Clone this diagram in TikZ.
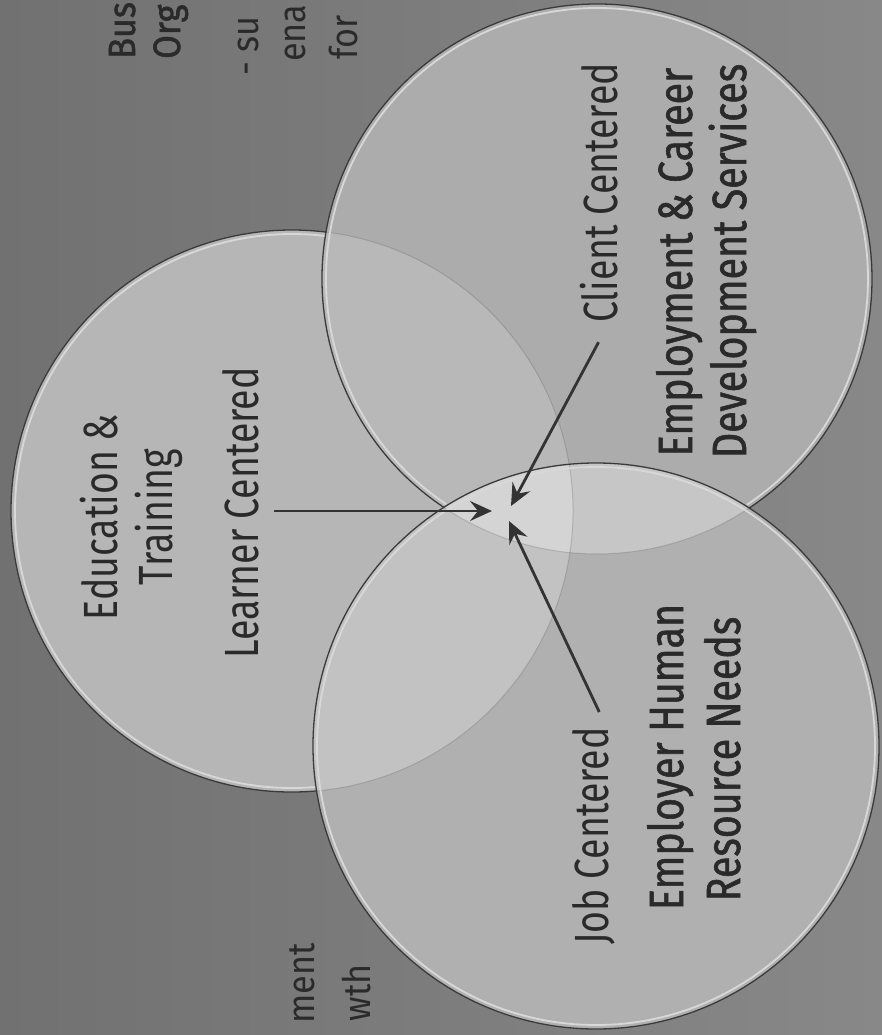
\documentclass[tikz,border=0pt]{standalone}
\usepackage{fontspec}
\setmainfont{Fira Sans}
\newfontfamily\condfont[FakeStretch=0.78]{Fira Sans}
\newfontfamily\semifont[FakeStretch=0.82,FakeBold=1.2]{Fira Sans}
\newfontfamily\fragfont[FakeStretch=0.9]{Fira Sans}
\newfontfamily\fragbold[FakeStretch=0.9,FakeBold=1.5]{Fira Sans}
\usetikzlibrary{arrows.meta}
\definecolor{bgL}{HTML}{717171}
\definecolor{bgR}{HTML}{888888}
\definecolor{eduF}{HTML}{B6B6B6}
\definecolor{cliF}{HTML}{ACACAC}
\definecolor{jobF}{HTML}{B0B0B0}
\definecolor{ecF}{HTML}{B8B8B8}
\definecolor{ejF}{HTML}{C2C2C2}
\definecolor{cjF}{HTML}{C6C6C6}
\definecolor{ecjF}{HTML}{D4D4D4}
\definecolor{rimD}{HTML}{3A3A3A}
\definecolor{rimL}{HTML}{D8D8D8}
\definecolor{inkc}{HTML}{2A2A2A}
\definecolor{arrowc}{HTML}{333333}
\tikzset{
  rimdark/.style={draw=rimD, line width=1.3pt},
  rimlight/.style={draw=rimL, line width=1.8pt},
  rimfaint/.style={draw=rimD, line width=1pt, draw opacity=0.2},
  lbl/.style={text=inkc, rotate=90, anchor=base, inner sep=2pt, font=\condfont\fontsize{48}{52}\selectfont},
  lblsemi/.style={lbl, font=\semifont\fontsize{48}{52}\selectfont},
  frag/.style={text=inkc, rotate=90, inner sep=0pt, font=\fragfont\fontsize{38}{42}\selectfont},
  fragb/.style={frag, font=\fragbold\fontsize{38}{42}\selectfont},
  ptr/.style={draw=arrowc, line width=2.8pt, -{Stealth[length=22pt,width=20pt,inset=8pt]}}
}
\begin{document}
\begin{tikzpicture}[x=1pt,y=-1pt]
\useasboundingbox (0,0) rectangle (882,1035);
\clip (0,0) rectangle (882,1035);
\shade[left color=bgL, right color=bgR] (0,0) rectangle (882,1035);

\coordinate (cE) at (292,511);
\coordinate (cC) at (597,279);
\coordinate (cJ) at (596,746);

% fills with overlap shades
\fill[eduF] (cE) circle[radius=281];
\fill[cliF] (cC) circle[radius=275];
\begin{scope}
  \clip (cE) circle[radius=281];
  \fill[ecF] (cC) circle[radius=275];
\end{scope}
\fill[jobF] (cJ) circle[radius=283];
\begin{scope}
  \clip (cJ) circle[radius=283];
  \fill[ejF] (cE) circle[radius=281];
  \fill[cjF] (cC) circle[radius=275];
  \clip (cE) circle[radius=281];
  \fill[ecjF] (cC) circle[radius=275];
\end{scope}

% hidden rims (faint)
\draw[rimfaint] ([shift={(-83.05:281)}]cE) arc[start angle=-83.05, end angle=84.98, radius=281];
\draw[rimfaint] ([shift={(56.4:275)}]cC) arc[start angle=56.4, end angle=123.8, radius=275];

% education rim
\draw[rimdark] ([shift={(84.98:281)}]cE) arc[start angle=84.98, end angle=276.95, radius=281];
\draw[rimlight] ([shift={(84.98:277)}]cE) arc[start angle=84.98, end angle=276.95, radius=277];
% client rim
\draw[rimdark] ([shift={(123.8:275)}]cC) arc[start angle=123.8, end angle=416.4, radius=275];
\draw[rimlight] ([shift={(123.8:271)}]cC) arc[start angle=123.8, end angle=416.4, radius=271];
% job rim
\draw[rimdark] (cJ) circle[radius=283];
\draw[rimlight] (cJ) circle[radius=279];

% labels
\node[lbl] (edu1) at (117,517) {Education \&};
\node[lbl] (edu2) at (172,517) {Training};
\node[lbl] (learner) at (258,513) {Learner Centered};
\node[lbl] (client) at (617,193) {Client Centered};
\node[lblsemi] (emp1) at (692,262) {Employment \& Career};
\node[lblsemi] (emp2) at (746,261) {Development Services};
\node[lbl] (job) at (608,836) {Job Centered};
\node[lblsemi] (hr1) at (683,757) {Employer Human};
\node[lblsemi] (hr2) at (740,759) {Resource Needs};

% cut-off fragments
\node[fragb, anchor=base west] (f1) at (135,59) {Bus};
\node[fragb, anchor=base west] (f2) at (180,59) {Org};
\node[frag, anchor=base west] (f3) at (258,76) {- su};
\node[frag, anchor=base west] (f4) at (305,62) {ena};
\node[frag, anchor=base west] (f5) at (357,60) {for};
\node[frag, anchor=base east] (f6) at (314,943) {ment};
\node[frag, anchor=base east] (f7) at (370,964) {wth};

% arrows
\coordinate (tipL) at (492,511);
\coordinate (tipC) at (511,506);
\coordinate (tipJ) at (509,521);
\draw[ptr] ([xshift=13pt,yshift=2pt]learner.south) -- (tipL);
\draw[ptr] ([yshift=-17pt]client.west) -- (tipC);
\draw[ptr] ([xshift=6pt,yshift=13pt]job.east) -- (tipJ);
\end{tikzpicture}
\end{document}
